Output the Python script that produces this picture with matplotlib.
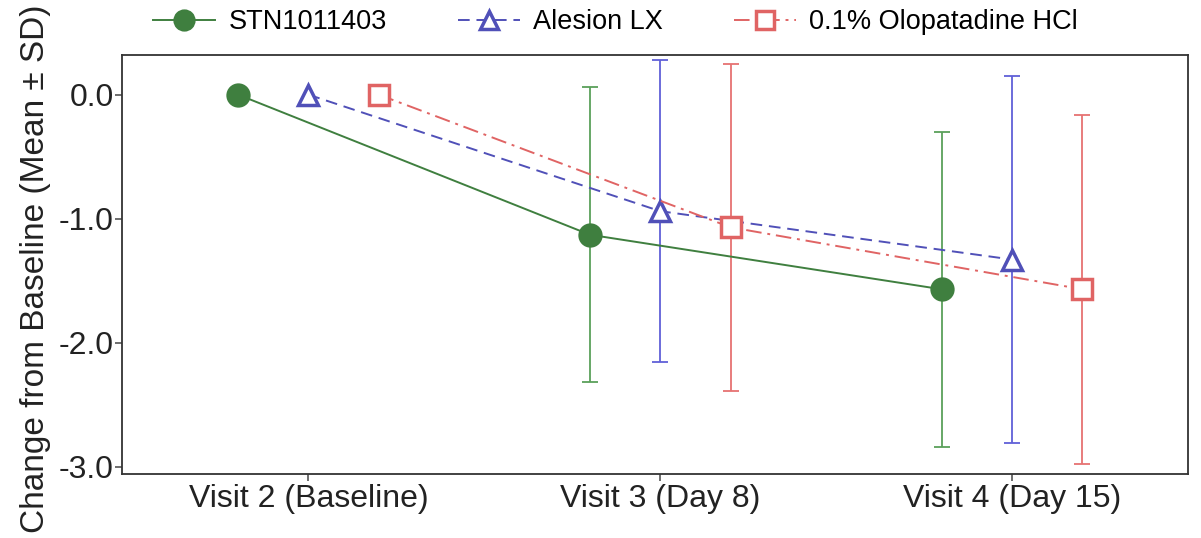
import numpy as np
import matplotlib
matplotlib.use("Agg")
import matplotlib.pyplot as plt

plt.rcParams["font.family"] = ["Liberation Sans", "DejaVu Sans"]

visits = ["Visit 2 (Baseline)", "Visit 3 (Day 8)", "Visit 4 (Day 15)"]
groups = ["STN1011403", "Alesion LX", "0.1% Olopatadine HCl"]
means = {
    "STN1011403": [0.0, -1.13, -1.57],
    "Alesion LX": [0.0, -0.94, -1.33],
    "0.1% Olopatadine HCl": [0.0, -1.07, -1.57],
}
sds = {
    "STN1011403": [0.0, 1.19, 1.27],
    "Alesion LX": [0.0, 1.22, 1.48],
    "0.1% Olopatadine HCl": [0.0, 1.32, 1.41],
}

styles = {
    "STN1011403": dict(color="#3f7f3f", ecolor="#5aa05a", marker="o", ls="-",
                       mfc="#3f7f3f", ms=15, offset=-0.2),
    "Alesion LX": dict(color="#5050b8", ecolor="#6060d8", marker="^", ls=(0, (6, 3.5)),
                       mfc="white", ms=14, offset=0.0),
    "0.1% Olopatadine HCl": dict(color="#e06464", ecolor="#e67272", marker="s",
                                 ls=(0, (8, 3, 1.5, 3)), mfc="white", ms=14, offset=0.2),
}

fig = plt.figure(figsize=(12.01, 5.38), dpi=100)
ax = fig.add_axes([122 / 1201, 1 - 474 / 538, (1188 - 122) / 1201, (474 - 55) / 538])

x = np.arange(len(visits))
for g in groups:
    s = styles[g]
    xx = x + s["offset"]
    m = np.array(means[g])
    sd = np.array(sds[g])
    has = sd > 0
    ax.errorbar(xx[has], m[has], yerr=sd[has], fmt="none", ecolor=s["ecolor"],
                elinewidth=1.3, capsize=6, capthick=1.3, zorder=2)
    ax.plot(xx, m, color=s["color"], ls=s["ls"], lw=1.4, marker=s["marker"],
            ms=s["ms"], mfc=s["mfc"], mec=s["color"], mew=2.5, label=g, zorder=3)

ax.set_xlim(-0.53, 2.5)
ax.set_ylim(-3.06, 0.32)
ax.set_xticks(x)
ax.set_xticklabels(visits, fontsize=23)
ax.set_yticks([0, -1, -2, -3])
ax.set_yticklabels(["0.0", "-1.0", "-2.0", "-3.0"], fontsize=23)
ax.tick_params(axis="x", direction="out", length=5, width=1.2, pad=2)
ax.tick_params(axis="y", direction="out", length=5, width=1.2, pad=1)
ax.tick_params(color="#555555", labelcolor="#222222")
for sp in ax.spines.values():
    sp.set_color("#333333")
    sp.set_linewidth(1.3)

# the reference label runs off the top edge; keep it just inside here
fig.text(36 / 1201, 0.5, "Change from Baseline (Mean \u00b1 SD)", rotation=90,
         va="center", ha="center", fontsize=24, color="#222222")

ax.legend(loc="center", bbox_to_anchor=(0.463, 1.078), ncol=3, frameon=False,
          fontsize=19.5, handlelength=2.3, handletextpad=0.5, columnspacing=2.6,
          markerscale=0.9, borderaxespad=0)

fig.savefig("out.png", dpi=100)
